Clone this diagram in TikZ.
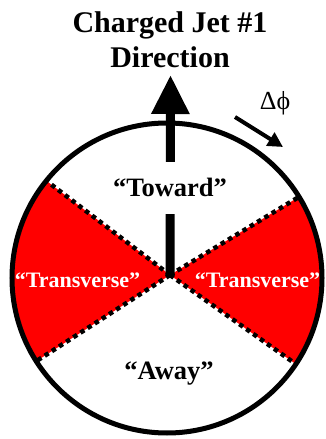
\documentclass[tikz,border=0pt]{standalone}
\usepackage{fontspec}
\setmainfont{Liberation Serif}
\usetikzlibrary{arrows.meta}

\begin{document}
\begin{tikzpicture}[x=1pt, y=1pt, >={Triangle},
    lbl/.style={font=\fontsize{26.5}{30}\selectfont\bfseries, anchor=base},
    side/.style={font=\fontsize{22}{26}\selectfont\bfseries, anchor=base, text=white},
    cut/.style={line width=4.5pt, dash pattern=on 4.5pt off 4pt}]
    \useasboundingbox (0,0) rectangle (326,439);
    \coordinate (C) at (167,161);
    \coordinate (X) at (170,164);
    \coordinate (jet) at (170.5,364);
    % transverse regions
    \begin{scope}
        \clip (C) circle (153);
        \fill[red] (X) -- ++(142.7:220) arc[start angle=142.7, end angle=212.8, radius=220] -- cycle;
        \fill[red] (X) -- ++(31.2:220) arc[start angle=31.2, end angle=-35.3, radius=220] -- cycle;
        \draw[cut] (X) -- ++(142.7:170);
        \draw[cut] (X) -- ++(212.8:170);
        \draw[cut] (X) -- ++(31.2:170);
        \draw[cut] (X) -- ++(-35.3:170);
    \end{scope}
    \draw[line width=5pt] (C) circle (155);
    \draw[->, line width=9pt, >={Triangle[length=39pt, width=36pt]}] (X) -- (jet);
    % labels
    \node[lbl, fill=white, inner ysep=17pt] (toward) at (170,242) {“Toward”};
    \node[side] (transl) at (77.5,151) {“Transverse”};
    \node[side] (transr) at (257.5,151) {“Transverse”};
    \node[lbl] (away) at (169,59) {“Away”};
    \node[font=\fontsize{30}{34}\selectfont\bfseries, anchor=base] (jeta) at (170,406) {Charged Jet \#1};
    \node[font=\fontsize{30}{34}\selectfont\bfseries, anchor=base] (jetb) at (170,371) {Direction};
    \node[font=\fontsize{26}{30}\selectfont] (dphi) at (275,336) {Δϕ};
    \coordinate (rota) at (235,322);
    \coordinate (rotb) at (283,292);
    \draw[->, line width=4pt, >={Triangle[length=15pt, width=15pt]}] (rota) -- (rotb);
\end{tikzpicture}
\end{document}
